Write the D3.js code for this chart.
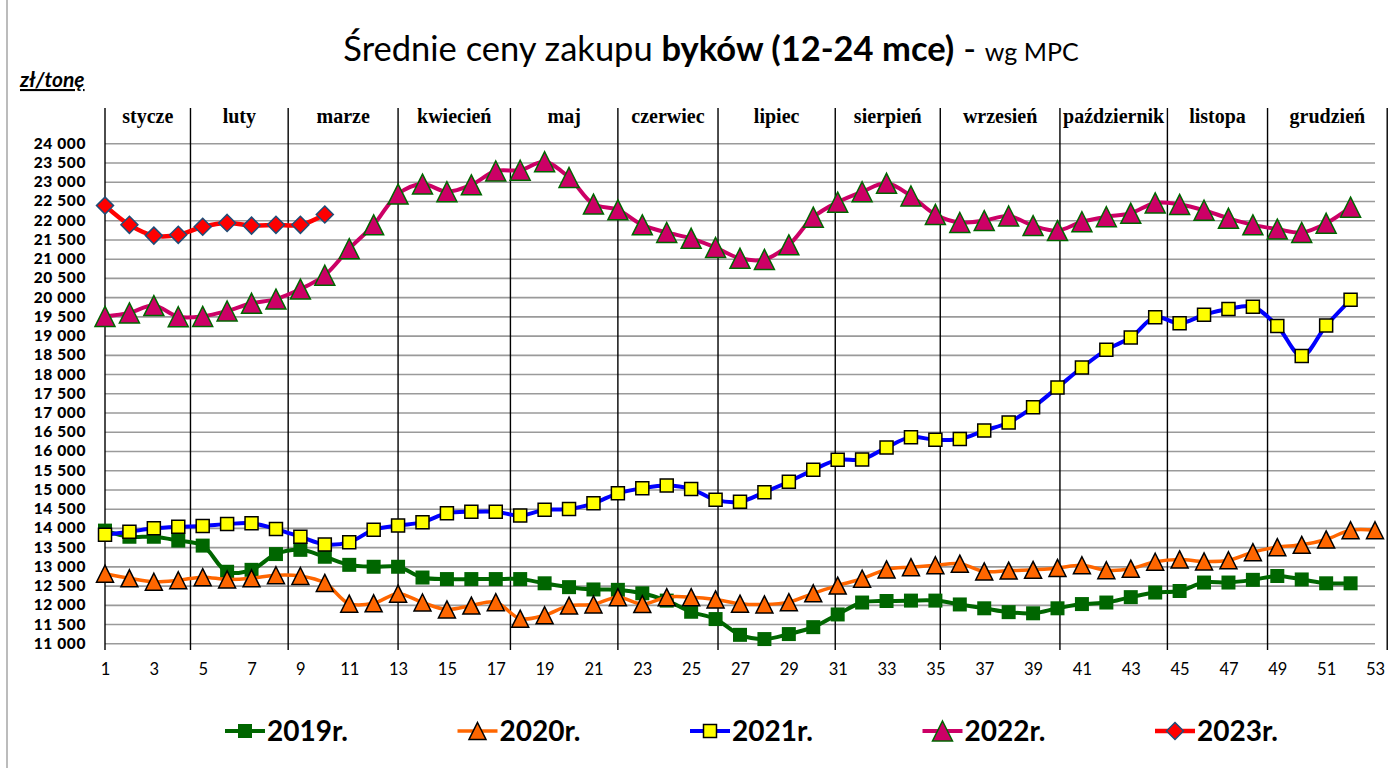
<html>
  <head>
    <meta charset="utf-8">
    <script src="https://d3js.org/d3.v7.min.js"></script>
    <style>
body {
  margin: 0;
  background: #fff;
}
.ytick text {
  font-family: Lato, "Liberation Sans", sans-serif;
  font-weight: 900;
  font-size: 15.5px;
  letter-spacing: 0.6px;
  fill: #000;
}
.xtick text {
  font-family: Lato, "Liberation Sans", sans-serif;
  font-size: 16.5px;
  fill: #000;
}
.month {
  font-family: "Liberation Serif", serif;
  font-weight: bold;
  font-size: 20px;
}
.legend text {
  font-family: Lato, "Liberation Sans", sans-serif;
  font-weight: bold;
  font-size: 28px;
}
    </style>
  </head>
  <body>
    <div id="chart"></div>
<script>
// weeks 1..53
var weeks = d3.range(1, 54);
var xTicks = d3.range(1, 54, 2);
var yTicks = d3.range(11000, 24001, 500);

var months = ["stycze", "luty", "marze", "kwiecień", "maj", "czerwiec", "lipiec",
  "sierpień", "wrzesień", "październik", "listopa", "grudzień"];
// month borders, in week units (first = y axis, last = right edge)
var monthBreaks = [1, 4.5, 8.5, 13, 17.6, 22, 26.1, 30.9, 35.2, 40.1, 44.5, 48.6, 53.5];

var s2019 = [13930, 13770, 13770, 13670, 13540, 12860, 12910, 13320, 13430, 13250,
  13040, 12990, 12990, 12710, 12670, 12670, 12670, 12670, 12560, 12460,
  12400, 12390, 12300, 12110, 11820, 11630, 11220, 11110, 11240, 11420,
  11750, 12060, 12100, 12110, 12110, 12010, 11910, 11810, 11780, 11910,
  12020, 12060, 12200, 12320, 12360, 12580, 12580, 12650, 12750, 12660,
  12560, 12560];
var s2020 = [12810, 12690, 12600, 12640, 12720, 12660, 12690, 12770, 12750, 12570,
  12030, 12040, 12290, 12060, 11880, 11980, 12070, 11640, 11730, 11980,
  12010, 12200, 12020, 12200, 12200, 12140, 12030, 12010, 12070, 12300,
  12500, 12680, 12920, 12980, 13030, 13070, 12870, 12890, 12910, 12960,
  13030, 12900, 12940, 13120, 13180, 13130, 13160, 13370, 13500, 13560,
  13700, 13940, 13940];
var s2021 = [13820, 13900, 13990, 14030, 14050, 14100, 14120, 13970, 13770, 13570,
  13630, 13950, 14060, 14150, 14380, 14420, 14420, 14320, 14470, 14490,
  14640, 14900, 15030, 15100, 15010, 14730, 14680, 14930, 15200, 15510,
  15770, 15780, 16090, 16360, 16290, 16310, 16530, 16740, 17140, 17650,
  18170, 18630, 18950, 19480, 19320, 19540, 19690, 19750, 19250, 18470,
  19260, 19930];
var s2022 = [19500, 19590, 19780, 19490, 19500, 19640, 19840, 19950, 20210, 20570,
  21260, 21880, 22680, 22940, 22740, 22920, 23280, 23300, 23520, 23110,
  22420, 22270, 21880, 21680, 21530, 21290, 21010, 20980, 21360, 22080,
  22470, 22740, 22960, 22630, 22150, 21940, 21990, 22110, 21860, 21730,
  21960, 22090, 22180, 22450, 22410, 22260, 22050, 21880, 21770, 21680,
  21920, 22340];
var s2023 = [22380, 21880, 21600, 21620, 21830, 21930, 21860, 21880, 21880, 22150];

var seriesNames = ["2019r.", "2020r.", "2021r.", "2022r.", "2023r."];
var seriesValues = [s2019, s2020, s2021, s2022, s2023];

var width = 1393;
var height = 768;

// line colour, marker shape, marker fill, marker outline, sizes
var styles = [
  {line: "#006600", shape: "square", fill: "#006600", stroke: "none", size: 14, lw: 4},
  {line: "#FF6600", shape: "triangle", fill: "#FF6600", stroke: "#000", size: 17, lw: 3.5},
  {line: "#0000FF", shape: "square", fill: "#FFFF00", stroke: "#000", size: 13, lw: 4},
  {line: "#CC0066", shape: "triangle", fill: "#CC0066", stroke: "#006600", size: 20, lw: 4},
  {line: "#FF0000", shape: "diamond", fill: "#FF0000", stroke: "#1F4E79", size: 17, lw: 4.5}
];

function markerPath(shape, s) {
  var h = s / 2;
  if (shape == "square") return `M${-h},${-h}h${s}v${s}h${-s}Z`;
  if (shape == "triangle") return `M0,${-h}L${h},${h}L${-h},${h}Z`;
  return `M0,${-h}L${h},0L0,${h}L${-h},0Z`;
}

/* Scale */
var xScale = d3.scaleLinear().domain([1, 53]).range([105, 1375]);
var yScale = d3.scaleLinear().domain([11000, 24000]).range([643.3, 143.3]);

var svg = d3.select("#chart").append("svg")
  .attr("width", width)
  .attr("height", height);

// outer frame
svg.append("rect")
  .attr("x", 7).attr("y", -5)
  .attr("width", width + 10).attr("height", height + 10)
  .attr("fill", "none").attr("stroke", "#a6a6a6").attr("stroke-width", 1.5);

/* Title */
var title = svg.append("text")
  .attr("x", 711).attr("y", 61)
  .attr("text-anchor", "middle")
  .style("font-family", "Lato, 'Liberation Sans', sans-serif")
  .style("font-size", "34.5px");
title.append("tspan").text("Średnie ceny zakupu ");
title.append("tspan").style("font-weight", "bold").text("byków (12-24 mce)");
title.append("tspan").text(" - ");
title.append("tspan").style("font-size", "25px").text("wg MPC");

svg.append("text")
  .attr("x", 20).attr("y", 87)
  .style("font-family", "Lato, 'Liberation Sans', sans-serif")
  .style("font-size", "21px")
  .style("font-weight", "bold")
  .style("font-style", "italic")
  .style("text-decoration", "underline")
  .text("zł/tonę");

/* Gridlines */
svg.append("g")
  .attr("class", "grid")
  .attr("transform", `translate(${xScale(1)},0)`)
  .call(d3.axisLeft(yScale).tickValues(yTicks).tickSize(-(xScale(53) - xScale(1))).tickFormat(""))
  .call(g => g.select(".domain").remove())
  .call(g => g.selectAll("line").attr("stroke", "#9a9a9a").attr("stroke-width", 1.6));

/* Y axis labels */
svg.append("g")
  .attr("class", "ytick")
  .attr("transform", "translate(86,0)")
  .call(d3.axisLeft(yScale).tickValues(yTicks).tickSize(0).tickPadding(0)
    .tickFormat(d => d3.format(",")(d).replace(",", " ")))
  .call(g => g.select(".domain").remove());

/* X axis labels */
svg.append("g")
  .attr("class", "xtick")
  .attr("transform", "translate(0,663)")
  .call(d3.axisBottom(xScale).tickValues(xTicks).tickSize(0).tickPadding(0))
  .call(g => g.select(".domain").remove());

/* Month separators and labels */
svg.append("g")
  .selectAll("line")
  .data(monthBreaks).enter()
  .append("line")
  .attr("x1", d => xScale(d)).attr("x2", d => xScale(d))
  .attr("y1", 108).attr("y2", 650)
  .attr("stroke", "#000").attr("stroke-width", 1.4);

var monthG = svg.append("g").selectAll("g")
  .data(months).enter()
  .append("g")
  .attr("transform", (d, i) => `translate(${xScale((monthBreaks[i] + monthBreaks[i + 1]) / 2)},123)`);
monthG.append("text")
  .attr("class", "month")
  .attr("text-anchor", "middle")
  .text(d => d);
monthG.each(function() {
  var b = d3.select(this).select("text").node().getBBox();
  d3.select(this).insert("rect", "text")
    .attr("x", b.x - 1).attr("y", b.y)
    .attr("width", b.width + 2).attr("height", b.height + 2)
    .attr("fill", "#fff");
});

/* Lines */
var line = d3.line()
  .x((d, i) => xScale(weeks[i]))
  .y(d => yScale(d))
  .curve(d3.curveCatmullRom.alpha(0.5));

seriesValues.forEach(function(vals, k) {
  var st = styles[k];
  var g = svg.append("g").attr("class", "series");
  g.append("path")
    .attr("d", line(vals))
    .attr("fill", "none")
    .attr("stroke", st.line)
    .attr("stroke-width", st.lw);
  g.selectAll("path.mk")
    .data(vals).enter()
    .append("path")
    .attr("class", "mk")
    .attr("transform", (d, i) => `translate(${xScale(weeks[i])},${yScale(d)})`)
    .attr("d", markerPath(st.shape, st.size))
    .attr("fill", st.fill)
    .attr("stroke", st.stroke)
    .attr("stroke-width", 1.5);
});

/* Legend */
var legend = svg.append("g")
  .attr("class", "legend")
  .selectAll("g")
  .data(seriesNames).enter()
  .append("g")
  .attr("transform", (d, i) => `translate(${245 + i * 232.5},731)`);
legend.append("line")
  .attr("x1", -20).attr("x2", 20)
  .attr("stroke", (d, i) => styles[i].line)
  .attr("stroke-width", (d, i) => styles[i].lw);
legend.append("path")
  .attr("d", (d, i) => markerPath(styles[i].shape, styles[i].size))
  .attr("fill", (d, i) => styles[i].fill)
  .attr("stroke", (d, i) => styles[i].stroke)
  .attr("stroke-width", 1.5);
legend.append("text")
  .attr("x", 22)
  .attr("dy", "0.35em")
  .text(d => d);
</script>
  </body>
</html>
